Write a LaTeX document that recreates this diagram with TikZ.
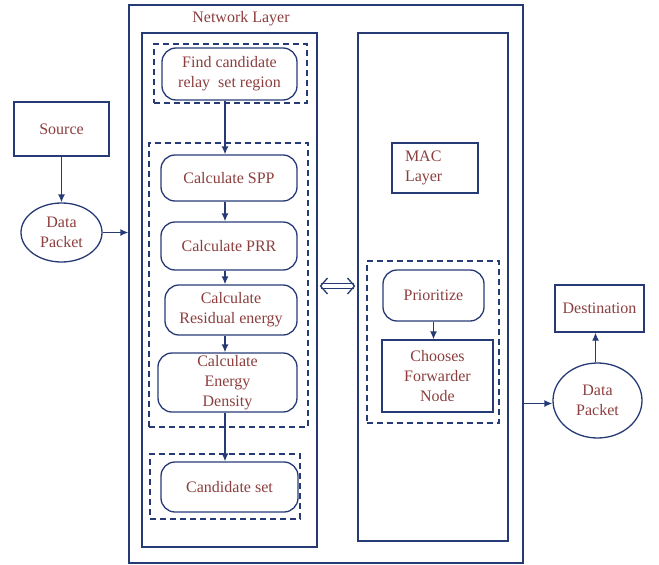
\documentclass[tikz,border=0pt]{standalone}
\usepackage{fontspec}
\setmainfont{Liberation Serif}
\usepackage{xcolor}
\usetikzlibrary{shapes.geometric,arrows.meta,calc}
\definecolor{lineblue}{RGB}{38,58,118}
\definecolor{textred}{RGB}{140,62,62}

\begin{document}
\begin{tikzpicture}[x=1pt,y=-1pt,
    every node/.style={font=\fontsize{16}{20}\selectfont,text=textred,align=center},
    box/.style={draw=lineblue,line width=1.3pt,rectangle,inner sep=0pt},
    stage/.style={box,rounded corners=14pt},
    group/.style={draw=lineblue,line width=1.3pt,dash pattern=on 6pt off 4pt,inner sep=0pt},
    blob/.style={draw=lineblue,line width=1.3pt,ellipse,inner sep=0pt},
    flow/.style={draw=lineblue,line width=1.3pt,-{Latex[length=8pt,width=7pt]}},
    barb/.tip={Straight Barb[length=7pt,width=16pt,line width=1.3pt]}]
        \useasboundingbox (0,0) rectangle (659,565);
        %Layers
        \node[box,minimum width=394,minimum height=558] (outer) at (326,284) {};
        \node at (241,19) {Network Layer};
        \node[box,minimum width=175,minimum height=514] (net) at (229.5,290) {};
        \node[box,minimum width=150,minimum height=508] (mac) at (433,287) {};
        %Source side
        \node[box,minimum width=95,minimum height=54] (src) at (61.5,129) {Source};
        \node[blob,minimum width=81,minimum height=59] (dp1) at (61.5,232.5) {Data\\Packet};
        %Network layer steps
        \node[group,minimum width=153,minimum height=59] (grpfind) at (230.5,73.5) {};
        \node[stage,minimum width=135,minimum height=52] (find) at (229.5,74) {Find candidate\\relay\ \ set region};
        \node[group,minimum width=159,minimum height=284] (grpcalc) at (228.5,285) {};
        \node[stage,minimum width=136,minimum height=46] (spp) at (229,178) {Calculate SPP};
        \node[stage,minimum width=136,minimum height=48] (prr) at (229,246) {Calculate PRR};
        \node[stage,minimum width=132,minimum height=50] (res) at (231,310) {Calculate\\Residual energy};
        \node[stage,minimum width=139,minimum height=59] (den) at (227.5,382.5) {Calculate\\Energy\\Density};
        \node[group,minimum width=150,minimum height=65] (grpcand) at (225,486.5) {};
        \node[stage,minimum width=137,minimum height=50] (cand) at (229.5,487) {Candidate set};
        %MAC layer
        \node[box,align=left,text width=60pt,inner xsep=13pt,minimum height=50] (maclbl) at (435,168) {MAC\\Layer};
        \node[group,minimum width=132,minimum height=162] (grpmac) at (433,342) {};
        \node[stage,minimum width=101,minimum height=51] (prio) at (433.5,295.5) {Prioritize};
        \node[box,minimum width=111,minimum height=72] (choose) at (437.5,376) {Chooses\\Forwarder\\Node};
        %Destination side
        \node[box,minimum width=89,minimum height=47] (dest) at (599.5,308.5) {Destination};
        \node[blob,minimum width=89,minimum height=75] (dp2) at (597.5,400.5) {Data\\Packet};
        %Arrows
        \coordinate (ax) at (225,0);
        \coordinate (mid) at (0,286);
        \draw[flow] (src.south) -- (dp1.north);
        \draw[flow] (dp1.east) -- (dp1.east -| outer.west);
        \draw[flow] (find.south -| ax) -- (spp.north -| ax);
        \draw[flow] (spp.south -| ax) -- (prr.north -| ax);
        \draw[flow] (prr.south -| ax) -- (res.north -| ax);
        \draw[flow] (res.south -| ax) -- (den.north -| ax);
        \draw[flow] (den.south -| ax) -- (cand.north -| ax);
        \draw[draw=lineblue,line width=1.2pt,double,double distance=4pt,shorten <=2pt,shorten >=2pt,{barb}-{barb}] (net.east |- mid) -- (mac.west |- mid);
        \draw[flow] (prio.south) -- (prio.south |- choose.north);
        \draw[flow] ([yshift=-3pt]dp2.west -| outer.east) -- ([yshift=-3pt]dp2.west);
        \draw[flow] ([xshift=-2pt]dp2.north) -- ([xshift=-2pt]dp2.north |- dest.south);
\end{tikzpicture}
\end{document}
